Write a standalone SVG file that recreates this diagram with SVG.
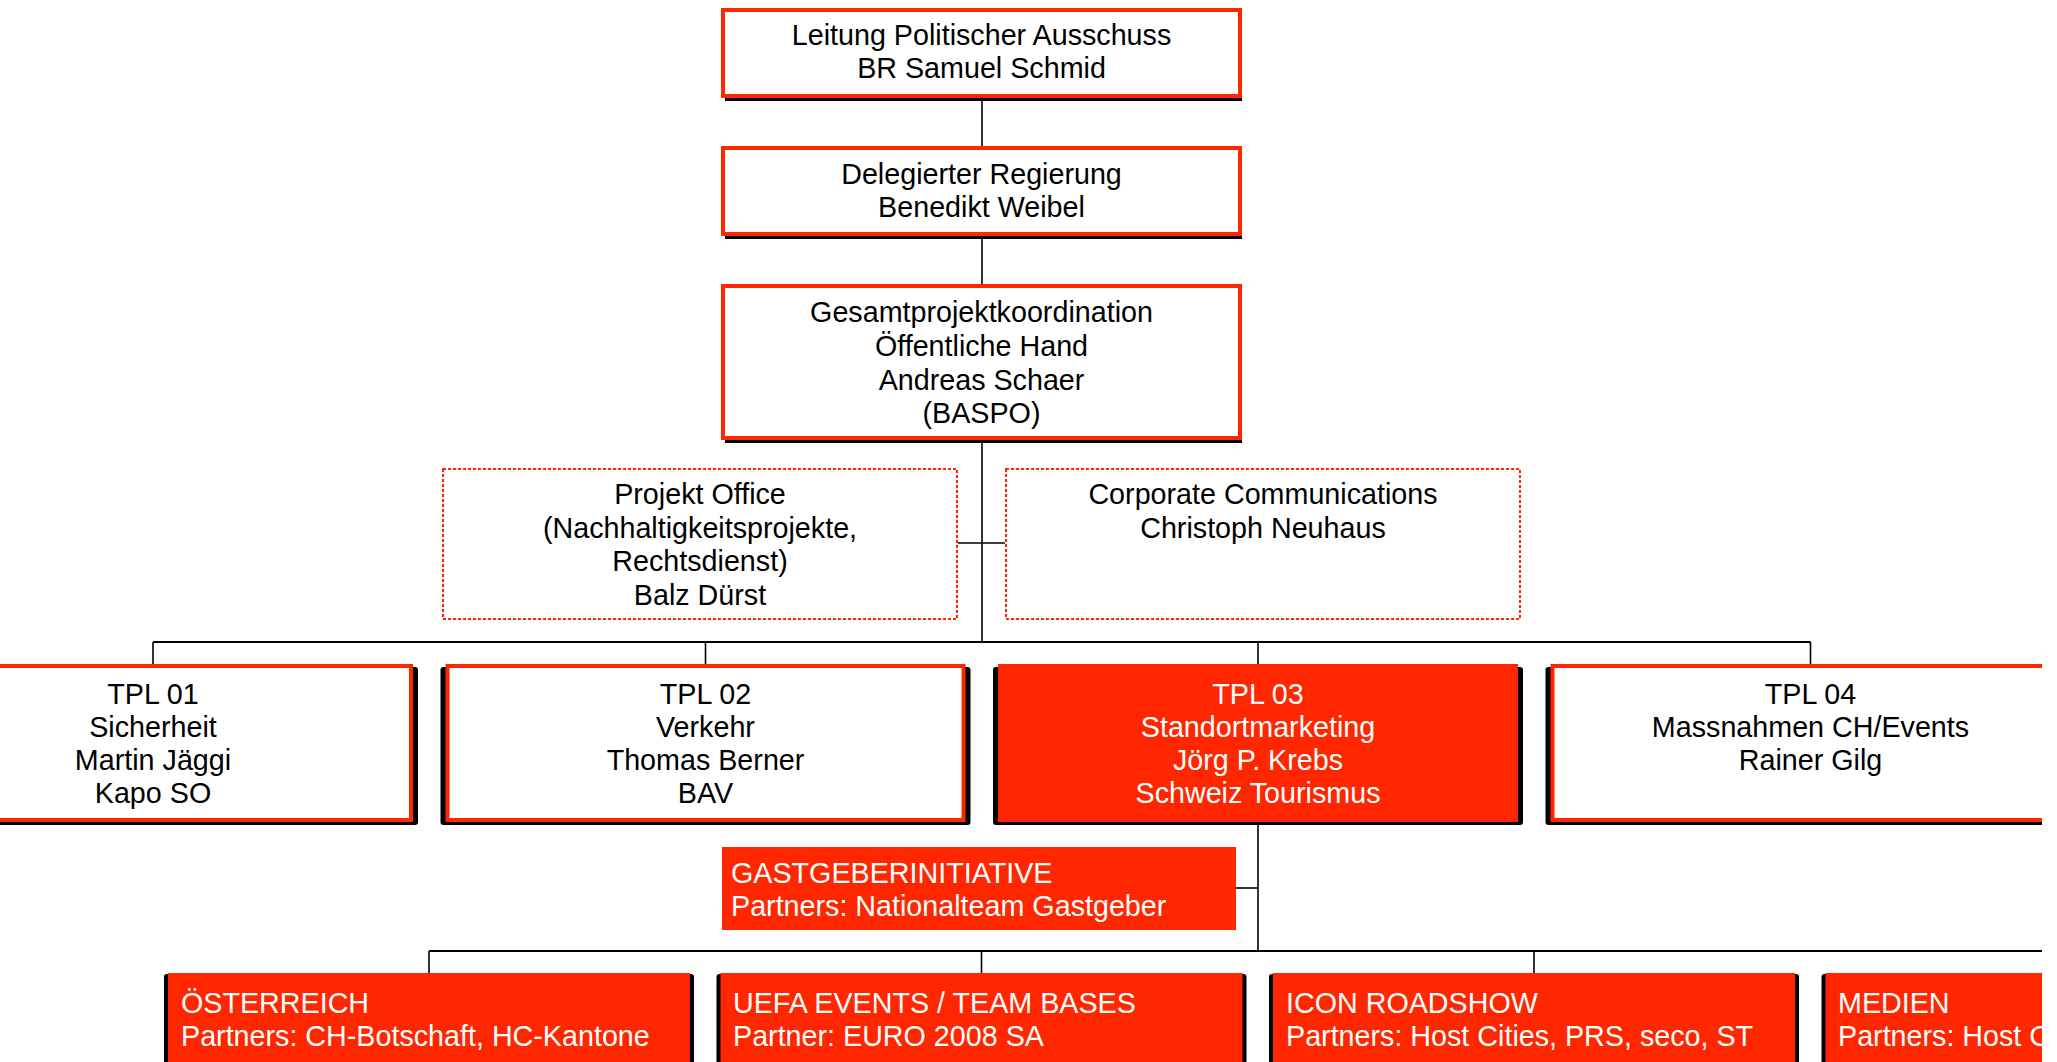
<svg xmlns="http://www.w3.org/2000/svg" width="2057" height="1062" viewBox="0 0 2057 1062">
<defs>
<clipPath id="page"><rect x="0" y="0" width="2042" height="1062"/></clipPath>
<style>
text{font-family:"Liberation Sans",Arial,sans-serif;font-size:28.7px}
.c{text-anchor:middle}
.dk{fill:#000}
.wt{fill:#fff}
.box{fill:#fff;stroke:#FF2600;stroke-width:4}
.rbox{fill:#FF2600;stroke:#FF2600;stroke-width:4}
.dot{fill:#fff;stroke:#FF2600;stroke-width:2;stroke-dasharray:3 2}
.sh{fill:#000}
.fill{fill:#FF2600}
.ln{stroke:#000;stroke-width:1.6;fill:none}
.bus{stroke:#000;stroke-width:2.2;fill:none}
</style>
</defs>
<rect x="0" y="0" width="2057" height="1062" fill="#fff"/>
<g clip-path="url(#page)">
<g id="connectors">
<line class="ln" x1="982" y1="98" x2="982" y2="146"/>
<line class="ln" x1="982" y1="236" x2="982" y2="284"/>
<line class="ln" x1="982" y1="440" x2="982" y2="642"/>
<line class="ln" x1="958" y1="543" x2="1005" y2="543"/>
<line class="bus" x1="153" y1="642" x2="1810.5" y2="642"/>
<line class="ln" x1="153" y1="642" x2="153" y2="664"/>
<line class="ln" x1="705.5" y1="642" x2="705.5" y2="664"/>
<line class="ln" x1="1258" y1="642" x2="1258" y2="664"/>
<line class="ln" x1="1810.5" y1="642" x2="1810.5" y2="664"/>
<line class="ln" x1="1258" y1="825" x2="1258" y2="951"/>
<line class="ln" x1="1236" y1="888" x2="1258" y2="888"/>
<line class="bus" x1="429" y1="951" x2="2086.5" y2="951"/>
<line class="ln" x1="429" y1="951" x2="429" y2="973"/>
<line class="ln" x1="981.5" y1="951" x2="981.5" y2="973"/>
<line class="ln" x1="1534" y1="951" x2="1534" y2="973"/>
<line class="ln" x1="2086.5" y1="951" x2="2086.5" y2="973"/>
</g>
<g id="leitung">
<rect class="sh" x="725" y="96" width="517" height="5"/>
<rect class="box" x="723" y="10" width="517" height="86"/>
<text class="c dk" x="981.5" y="45">Leitung Politischer Ausschuss</text>
<text class="c dk" x="981.5" y="78">BR Samuel Schmid</text>
</g>
<g id="delegierter">
<rect class="sh" x="725" y="234" width="517" height="5"/>
<rect class="box" x="723" y="148" width="517" height="86"/>
<text class="c dk" x="981.5" y="184">Delegierter Regierung</text>
<text class="c dk" x="981.5" y="217">Benedikt Weibel</text>
</g>
<g id="gesamt">
<rect class="sh" x="725" y="438" width="517" height="5"/>
<rect class="box" x="723" y="286" width="517" height="152"/>
<text class="c dk" x="981.5" y="322">Gesamtprojektkoordination</text>
<text class="c dk" x="981.5" y="356">Öffentliche Hand</text>
<text class="c dk" x="981.5" y="390">Andreas Schaer</text>
<text class="c dk" x="981.5" y="423">(BASPO)</text>
</g>
<g id="projektoffice">
<rect class="dot" x="443" y="469" width="514" height="150"/>
<text class="c dk" x="700" y="504">Projekt Office</text>
<text class="c dk" x="700" y="538">(Nachhaltigkeitsprojekte,</text>
<text class="c dk" x="700" y="571">Rechtsdienst)</text>
<text class="c dk" x="700" y="605">Balz Dürst</text>
</g>
<g id="corpcomm">
<rect class="dot" x="1006" y="469" width="514" height="150"/>
<text class="c dk" x="1263" y="504">Corporate Communications</text>
<text class="c dk" x="1263" y="538">Christoph Neuhaus</text>
</g>
<g id="tpl01">
<rect class="sh" x="-112" y="667" width="530" height="158" rx="3"/>
<rect class="box" x="-105" y="666" width="516" height="154"/>
<text class="c dk" x="153" y="704">TPL 01</text>
<text class="c dk" x="153" y="737">Sicherheit</text>
<text class="c dk" x="153" y="770">Martin Jäggi</text>
<text class="c dk" x="153" y="803">Kapo SO</text>
</g>
<g id="tpl02">
<rect class="sh" x="440.5" y="667" width="530" height="158" rx="3"/>
<rect class="box" x="447.5" y="666" width="516" height="154"/>
<text class="c dk" x="705.5" y="704">TPL 02</text>
<text class="c dk" x="705.5" y="737">Verkehr</text>
<text class="c dk" x="705.5" y="770">Thomas Berner</text>
<text class="c dk" x="705.5" y="803">BAV</text>
</g>
<g id="tpl03">
<rect class="sh" x="993" y="667" width="530" height="158" rx="3"/>
<rect class="rbox" x="1000" y="666" width="516" height="154"/>
<text class="c wt" x="1258" y="704">TPL 03</text>
<text class="c wt" x="1258" y="737">Standortmarketing</text>
<text class="c wt" x="1258" y="770">Jörg P. Krebs</text>
<text class="c wt" x="1258" y="803">Schweiz Tourismus</text>
</g>
<g id="tpl04">
<rect class="sh" x="1545.5" y="667" width="530" height="158" rx="3"/>
<rect class="box" x="1552.5" y="666" width="516" height="154"/>
<text class="c dk" x="1810.5" y="704">TPL 04</text>
<text class="c dk" x="1810.5" y="737">Massnahmen CH/Events</text>
<text class="c dk" x="1810.5" y="770">Rainer Gilg</text>
</g>
<g id="gastgeber">
<rect class="fill" x="722" y="847" width="514" height="83"/>
<text class="wt" x="731" y="883">GASTGEBERINITIATIVE</text>
<text class="wt" x="731" y="916">Partners: Nationalteam Gastgeber</text>
</g>
<g id="oesterreich">
<rect class="sh" x="164" y="974" width="530" height="100" rx="3"/>
<rect class="fill" x="168" y="973" width="522" height="100"/>
<text class="wt" x="181" y="1013">ÖSTERREICH</text>
<text class="wt" x="181" y="1046">Partners: CH-Botschaft, HC-Kantone</text>
</g>
<g id="uefa">
<rect class="sh" x="716.5" y="974" width="530" height="100" rx="3"/>
<rect class="fill" x="720.5" y="973" width="522" height="100"/>
<text class="wt" x="733" y="1013">UEFA EVENTS / TEAM BASES</text>
<text class="wt" x="733" y="1046">Partner: EURO 2008 SA</text>
</g>
<g id="icon">
<rect class="sh" x="1269" y="974" width="530" height="100" rx="3"/>
<rect class="fill" x="1273" y="973" width="522" height="100"/>
<text class="wt" x="1286" y="1013">ICON ROADSHOW</text>
<text class="wt" x="1286" y="1046">Partners: Host Cities, PRS, seco, ST</text>
</g>
<g id="medien">
<rect class="sh" x="1821.5" y="974" width="530" height="100" rx="3"/>
<rect class="fill" x="1825.5" y="973" width="522" height="100"/>
<text class="wt" x="1838" y="1013">MEDIEN</text>
<text class="wt" x="1838" y="1046">Partners: Host Cities</text>
</g>
</g>
</svg>
